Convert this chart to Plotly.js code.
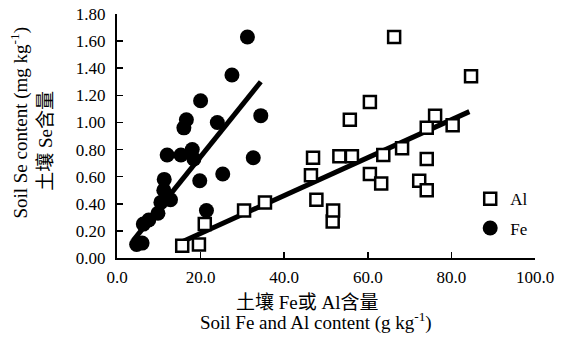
<!DOCTYPE html>
<html>
<head>
<meta charset="utf-8">
<script src="https://cdn.plot.ly/plotly-3.0.1.min.js"></script>
<style>html,body{margin:0;padding:0;background:#fff;}#chart{width:571px;height:340px;}</style>
</head>
<body>
<div id="chart"></div>
<script>
// Al (open squares)
const alX = [15.6, 19.6, 21.0, 30.4, 35.4, 46.4, 46.9, 47.7, 51.6, 51.7, 53.2, 56.2, 55.7, 60.5, 60.5, 63.2, 63.7, 68.2, 66.3, 72.3, 74.1, 74.1, 74.1, 76.1, 80.3, 84.7];
const alY = [0.09, 0.10, 0.25, 0.35, 0.41, 0.61, 0.74, 0.43, 0.27, 0.35, 0.75, 0.75, 1.02, 1.15, 0.62, 0.55, 0.76, 0.81, 1.63, 0.57, 0.50, 0.73, 0.96, 1.05, 0.98, 1.34];
// Fe (filled circles)
const feX = [4.7, 6.0, 6.3, 7.6, 9.8, 10.5, 12.8, 11.2, 11.3, 12.0, 15.3, 18.0, 18.4, 19.8, 21.4, 16.0, 16.6, 20.0, 24.0, 25.3, 27.5, 31.2, 32.6, 34.4];
const feY = [0.10, 0.11, 0.25, 0.28, 0.33, 0.41, 0.43, 0.50, 0.58, 0.76, 0.76, 0.80, 0.73, 0.57, 0.35, 0.96, 1.02, 1.16, 1.00, 0.62, 1.35, 1.63, 0.74, 1.05];
// regression line end points
const feLineX = [3.9, 34.4];
const feLineY = [0.13, 1.30];
const alLineX = [15.6, 84.3];
const alLineY = [0.12, 1.08];
// ticks
const xTickVals = [0, 20, 40, 60, 80, 100];
const xTickText = ['0.0', '20.0', '40.0', '60.0', '80.0', '100.0'];
const yTickVals = [0, 0.2, 0.4, 0.6, 0.8, 1.0, 1.2, 1.4, 1.6, 1.8];
const yTickText = ['0.00', '0.20', '0.40', '0.60', '0.80', '1.00', '1.20', '1.40', '1.60', '1.80'];
// axis title texts
const yTitle1 = 'Soil Se content (mg kg<sup>-1</sup>)';
const yTitle2 = '土壤 Se含量';
const xTitle1 = '土壤 Fe或 Al含量';
const xTitle2 = 'Soil Fe and Al content (g kg<sup>-1</sup>)';

const serif = 'Liberation Serif, "Noto Sans CJK SC", serif';
const titleFont = {family: serif, size: 19, color: '#000'};

const traces = [
  {x: feLineX, y: feLineY, mode: 'lines', line: {color: '#000', width: 5}, showlegend: false, hoverinfo: 'skip'},
  {x: alLineX, y: alLineY, mode: 'lines', line: {color: '#000', width: 5}, showlegend: false, hoverinfo: 'skip'},
  {x: feX, y: feY, mode: 'markers', name: 'Fe', legend: 'legend2',
   marker: {symbol: 'circle', size: 15, color: '#000', line: {width: 0}}},
  {x: alX, y: alY, mode: 'markers', name: 'Al', legend: 'legend',
   marker: {symbol: 'square', size: 12, color: '#fff', line: {width: 2.5, color: '#000'}}}
];

const layout = {
  width: 571, height: 340,
  margin: {l: 117, r: 36, t: 14, b: 82},
  paper_bgcolor: '#fff', plot_bgcolor: '#fff',
  font: {family: serif, color: '#000', size: 16},
  xaxis: {
    range: [0, 100], tickvals: xTickVals, ticktext: xTickText,
    ticks: 'inside', ticklen: 6, tickwidth: 1.5, tickcolor: '#000',
    showline: true, linecolor: '#000', linewidth: 2, showgrid: false, zeroline: false,
    tickfont: {family: serif, size: 17, color: '#000'}, ticklabelstandoff: 3
  },
  yaxis: {
    range: [0, 1.8], tickvals: yTickVals, ticktext: yTickText,
    ticks: 'inside', ticklen: 6, tickwidth: 1.5, tickcolor: '#000',
    showline: true, linecolor: '#000', linewidth: 2, showgrid: false, zeroline: false,
    tickfont: {family: serif, size: 17, color: '#000'}, ticklabelstandoff: 6
  },
  annotations: [
    {text: yTitle1, xref: 'paper', yref: 'paper', x: -0.232, y: 0.555, textangle: -90,
     showarrow: false, xanchor: 'center', yanchor: 'middle', font: titleFont},
    {text: yTitle2, xref: 'paper', yref: 'paper', x: -0.17, y: 0.48, textangle: -90,
     showarrow: false, xanchor: 'center', yanchor: 'middle', font: titleFont},
    {text: xTitle1, xref: 'paper', yref: 'paper', x: 0.455, y: -0.184,
     showarrow: false, xanchor: 'center', yanchor: 'middle', font: titleFont},
    {text: xTitle2, xref: 'paper', yref: 'paper', x: 0.476, y: -0.262,
     showarrow: false, xanchor: 'center', yanchor: 'middle', font: titleFont}
  ],
  legend: {x: 0.845, y: 0.315, xanchor: 'left', yanchor: 'top', bgcolor: 'rgba(0,0,0,0)',
           font: {family: serif, size: 17, color: '#000'}, itemwidth: 30},
  legend2: {x: 0.845, y: 0.195, xanchor: 'left', yanchor: 'top', bgcolor: 'rgba(0,0,0,0)',
           font: {family: serif, size: 17, color: '#000'}, itemwidth: 30},
  showlegend: true
};

Plotly.newPlot('chart', traces, layout, {displayModeBar: false, staticPlot: true});
</script>
</body>
</html>
